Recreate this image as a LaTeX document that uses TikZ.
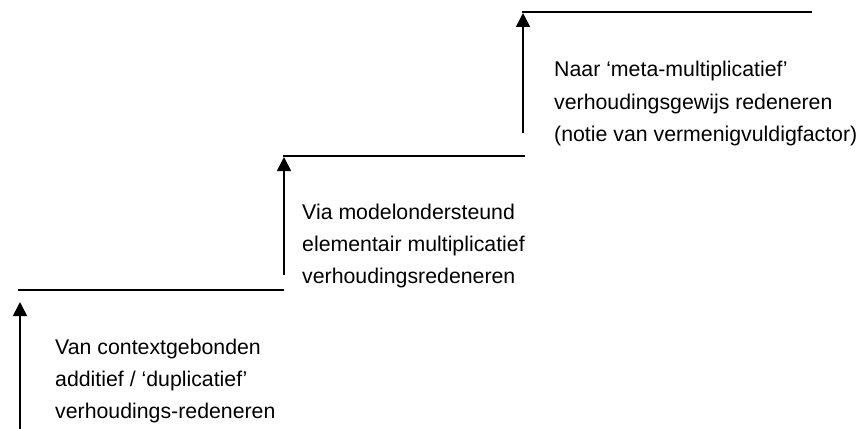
\documentclass[tikz,border=0pt]{standalone}
\usepackage{fontspec}
\setmainfont{Liberation Sans}
\usetikzlibrary{arrows.meta}
\begin{document}
\begin{tikzpicture}[x=1pt,y=-1pt,
  stepline/.style={line width=1.8pt},
  uparrow/.style={line width=1.6pt,-{Triangle[length=14pt,width=14pt]}},
  lbl/.style={anchor=base west,inner sep=0pt,font=\fontsize{21.3}{32}\selectfont}]
\useasboundingbox (0,0) rectangle (864,428);
% coordinates
\coordinate (l1a) at (18,290);
\coordinate (l1b) at (284,290);
\coordinate (l2a) at (283,156);
\coordinate (l2b) at (525,156);
\coordinate (l3a) at (522,12);
\coordinate (l3b) at (812,12);
\coordinate (b1) at (20,430);
\coordinate (t1) at (20,302);
\coordinate (b2) at (284,275);
\coordinate (t2) at (284,157);
\coordinate (b3) at (523,133);
\coordinate (t3) at (523,13);
% step lines
\draw[stepline] (l1a) -- (l1b);
\draw[stepline] (l2a) -- (l2b);
\draw[stepline] (l3a) -- (l3b);
% arrows
\draw[uparrow] (b1) -- (t1);
\draw[uparrow] (b2) -- (t2);
\draw[uparrow] (b3) -- (t3);
% texts
\node[lbl] (a1) at (55,354) {Van contextgebonden};
\node[lbl] (a2) at (55,386) {additief / ‘duplicatief’};
\node[lbl] (a3) at (55,418) {verhoudings-redeneren};
\node[lbl] (m1) at (302,219) {Via modelondersteund};
\node[lbl] (m2) at (302,251) {elementair multiplicatief};
\node[lbl] (m3) at (302,283) {verhoudingsredeneren};
\node[lbl] (n1) at (554,77) {Naar ‘meta-multiplicatief’};
\node[lbl] (n2) at (554,109) {verhoudingsgewijs redeneren};
\node[lbl] (n3) at (554,141) {(notie van vermenigvuldigfactor)};
\end{tikzpicture}
\end{document}
